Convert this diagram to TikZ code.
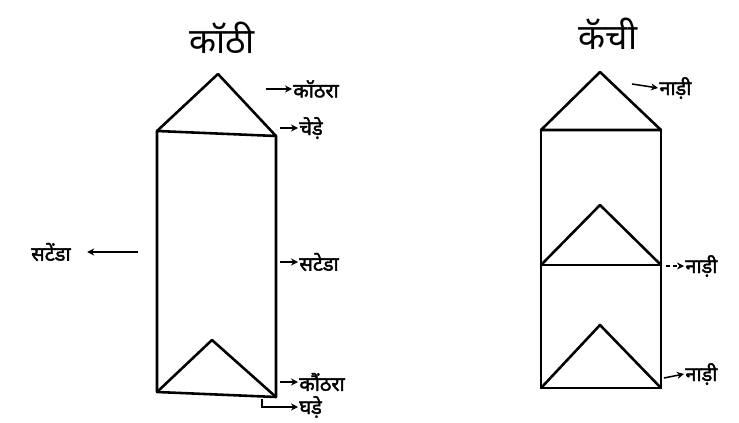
\documentclass[tikz,border=0pt]{standalone}
\usepackage{fontspec}
\newfontfamily\deva[Script=Devanagari]{Noto Sans}
\newfontfamily\devabold[Script=Devanagari, FakeBold=2]{Noto Sans}
\usetikzlibrary{arrows.meta, positioning, calc}
\tikzset{
  frameline/.style={draw=black, line width=2.2pt, line join=round, line cap=round},
  tagarrow/.style={-{Stealth[length=6pt, width=6pt]}, line width=1.3pt, draw=black},
  titlelabel/.style={font=\deva\fontsize{30}{30}\selectfont, inner sep=0pt},
  partlabel/.style={font=\devabold\fontsize{17}{17}\selectfont, inner sep=1pt, anchor=west}
}

\begin{document}
\begin{tikzpicture}[x=0.03cm, y=-0.03cm]
  \useasboundingbox (0,0) rectangle (739,422);

  % kothi
  \coordinate (ktop) at (218,74);
  \coordinate (ktl) at (157,131);
  \coordinate (ktr) at (276,136);
  \coordinate (kbl) at (157,392);
  \coordinate (kbr) at (276,397);
  \coordinate (kbapex) at (212,340);
  \node[titlelabel] at (222,38) (ktitle) {कॉठी};

  \draw[frameline] (ktl) -- (ktop) -- (ktr) -- cycle;
  \draw[frameline] (ktl) -- (kbl) -- (kbr) -- (ktr);
  \draw[frameline] (kbl) -- (kbapex) -- (kbr);

  % kainchi
  \coordinate (ctop) at (600,72);
  \coordinate (ctl) at (541,130);
  \coordinate (ctr) at (661,130);
  \coordinate (cml) at (541,265);
  \coordinate (cmr) at (661,265);
  \coordinate (cmapex) at (600,205);
  \coordinate (cbl) at (541,388);
  \coordinate (cbr) at (661,388);
  \coordinate (cbapex) at (600,325);
  \node[titlelabel] at (608,34) (ctitle) {कॅची};

  \draw[frameline] (ctl) -- (ctop) -- (ctr) -- cycle;
  \draw[frameline] (ctl) -- (cbl) -- (cbr) -- (ctr);
  \draw[frameline] (cml) -- (cmr);
  \draw[frameline] (cml) -- (cmapex) -- (cmr);
  \draw[frameline] (cbl) -- (cbapex) -- (cbr);

  % labels, kothi
  \node[partlabel] at (292,89) (kothra) {कॉठरा};
  \node[partlabel] at (298,128) (chede) {चेड़े};
  \node[partlabel, anchor=east] at (72,252) (satendaL) {सटेंडा};
  \node[partlabel] at (298,262) (satendaR) {सटेडा};
  \node[partlabel] at (298,382) (kothrab) {कौंठरा};
  \node[partlabel] at (298,407) (ghade) {घड़े};

  \coordinate (a1) at (266,89);
  \coordinate (a2) at (280,128);
  \coordinate (a3) at (138,252);
  \coordinate (a4) at (280,262);
  \coordinate (a5) at (280,382);
  \coordinate (a6) at (262,399);

  \draw[tagarrow] (a1) -- (kothra.west);
  \draw[tagarrow] (a2) -- (chede.west);
  \draw[tagarrow] (a3) -- ([xshift=13pt]satendaL.east);
  \draw[tagarrow] (a4) -- (satendaR.west);
  \draw[tagarrow] (a5) -- (kothrab.west);
  \draw[tagarrow] (a6) |- (ghade.west);

  % labels, kainchi
  \node[partlabel] at (658,88) (nadi1) {नाड़ी};
  \node[partlabel] at (684,266) (nadi2) {नाड़ी};
  \node[partlabel] at (684,374) (nadi3) {नाड़ी};

  \coordinate (b1) at (632,84);
  \coordinate (b2) at (666,266);
  \coordinate (b3) at (664,378);

  \draw[tagarrow] (b1) -- (nadi1.west);
  \draw[tagarrow, dashed] (b2) -- (nadi2.west);
  \draw[tagarrow] (b3) -- (nadi3.west);
\end{tikzpicture}
\end{document}
